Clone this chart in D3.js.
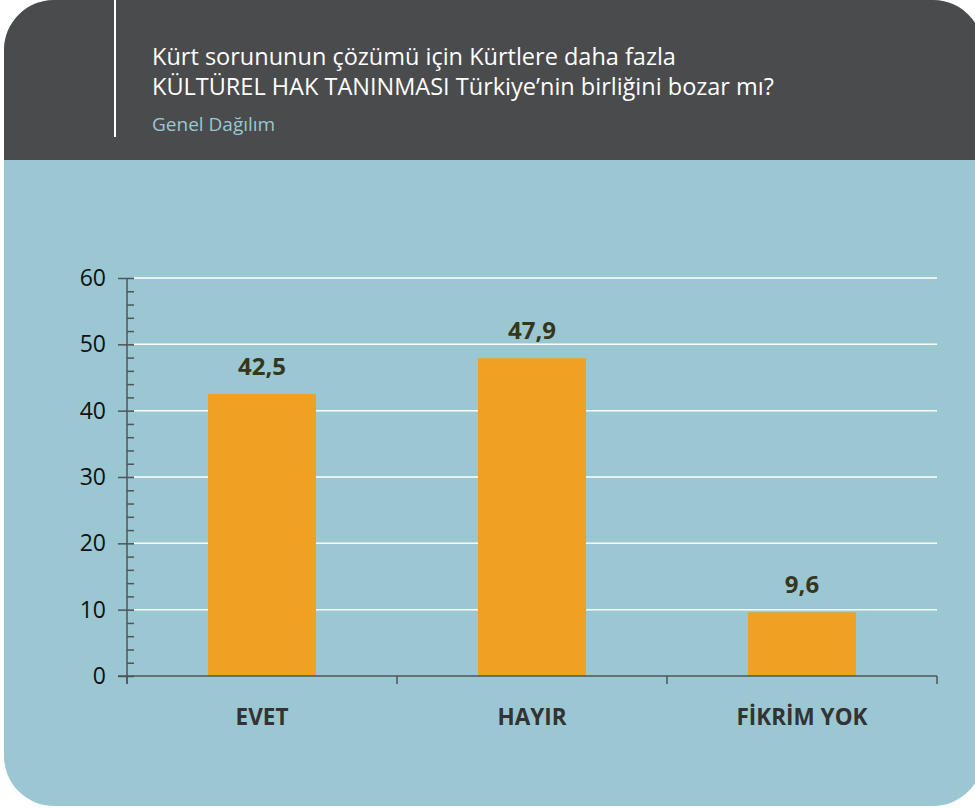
<!DOCTYPE html>
<html>
<head>
<meta charset="utf-8">
<script src="https://cdn.jsdelivr.net/npm/d3@7"></script>
<style>
  body { margin: 0; background: #ffffff; }
  svg { display: block; }
</style>
</head>
<body>
<div id="chart-area"></div>
<script>
// data
const categories = ['EVET', 'HAYIR', 'FİKRİM YOK'];
const values = [42.5, 47.9, 9.6];
const valueLabels = ['42,5', '47,9', '9,6'];
const yTicks = [0, 10, 20, 30, 40, 50, 60];
const titleLines = [
  'Kürt sorununun çözümü için Kürtlere daha fazla',
  'KÜLTÜREL HAK TANINMASI Türkiye’nin birliğini bozar mı?'
];
const subtitle = 'Genel Dağılım';

const W = 975, H = 808;
const plot = {left: 127, right: 937, top: 278, bottom: 676};

const svg = d3.select('#chart-area')
  .append('svg')
  .attr('width', W)
  .attr('height', H);

// card shape
svg.append('clipPath')
  .attr('id', 'card')
  .append('rect')
    .attr('x', 4)
    .attr('y', 0)
    .attr('width', 979)
    .attr('height', 806)
    .attr('rx', 50)
    .attr('ry', 50);

let card = svg.append('g').attr('clip-path', 'url(#card)');

card.append('rect')
  .attr('x', 0).attr('y', 0)
  .attr('width', W).attr('height', H)
  .attr('fill', '#9ac7d2');

card.append('rect')
  .attr('x', 0).attr('y', 0)
  .attr('width', W).attr('height', 160)
  .attr('fill', '#4a4b4d');

// white bar in header
svg.append('line')
  .attr('x1', 115).attr('x2', 115)
  .attr('y1', 0).attr('y2', 137)
  .attr('stroke', '#ffffff')
  .attr('stroke-width', 2);

// title
svg.selectAll('.title')
  .data(titleLines)
  .enter()
  .append('text')
    .attr('class', 'title')
    .attr('x', 152)
    .attr('y', (d, i) => 65 + i * 30)
    .attr('font-family', 'Open Sans, sans-serif')
    .attr('font-size', '23.5px')
    .attr('fill', '#ffffff')
    .text(d => d);

svg.append('text')
  .attr('x', 152)
  .attr('y', 131)
  .attr('font-family', 'Open Sans, sans-serif')
  .attr('font-size', '19px')
  .attr('fill', '#9ac7d2')
  .text(subtitle);

// scales
const x = d3.scaleBand()
  .domain(categories)
  .range([plot.left, plot.right])
  .padding(0);

const y = d3.scaleLinear()
  .domain([0, 60])
  .range([plot.bottom, plot.top]);

// gridlines
svg.append('g')
  .selectAll('line')
  .data(yTicks.filter(d => d > 0))
  .enter()
  .append('line')
    .attr('x1', plot.left + 7)
    .attr('x2', plot.right)
    .attr('y1', d => y(d))
    .attr('y2', d => y(d))
    .attr('stroke', '#ffffff')
    .attr('stroke-width', 1.5);

// bars
const barW = x.bandwidth() * 0.4;
svg.append('g')
  .selectAll('rect')
  .data(values)
  .enter()
  .append('rect')
    .attr('x', (d, i) => x(categories[i]) + (x.bandwidth() - barW) / 2)
    .attr('y', d => y(d))
    .attr('width', barW)
    .attr('height', d => y(0) - y(d))
    .attr('fill', '#f0a121');

// value labels
svg.append('g')
  .selectAll('text')
  .data(values)
  .enter()
  .append('text')
    .attr('x', (d, i) => x(categories[i]) + x.bandwidth() / 2)
    .attr('y', d => y(d) - 19)
    .attr('text-anchor', 'middle')
    .attr('font-family', 'Open Sans, sans-serif')
    .attr('font-weight', 'bold')
    .attr('font-size', '24px')
    .attr('fill', '#36361c')
    .text((d, i) => valueLabels[i]);

// Y axis: major ticks to the left with labels
const axisColor = '#4f5558';
const yAxisCall = d3.axisLeft(y)
  .tickValues(yTicks)
  .tickSize(9)
  .tickPadding(12)
  .tickFormat(d => d);

let yAxis = svg.append('g')
  .attr('class', 'y-axis')
  .attr('transform', `translate(${plot.left}, 0)`)
  .call(yAxisCall);
yAxis.select('.domain').remove();
yAxis.selectAll('line').attr('stroke', axisColor).attr('stroke-width', 1.5);
yAxis.selectAll('text')
  .attr('font-family', 'Open Sans, sans-serif')
  .attr('font-size', '23px')
  .attr('fill', '#111111');

// minor ticks to the right
const yMinorCall = d3.axisRight(y)
  .tickValues(d3.range(0, 61, 2))
  .tickSize(7)
  .tickFormat('');

let yMinor = svg.append('g')
  .attr('transform', `translate(${plot.left}, 0)`)
  .call(yMinorCall);
yMinor.select('.domain').remove();
yMinor.selectAll('line').attr('stroke', axisColor).attr('stroke-width', 1.5);

// axis vertical line
svg.append('line')
  .attr('x1', plot.left).attr('x2', plot.left)
  .attr('y1', y(60)).attr('y2', y(0) + 8)
  .attr('stroke', axisColor)
  .attr('stroke-width', 1.5);

// X axis
svg.append('line')
  .attr('x1', plot.left - 9).attr('x2', plot.right)
  .attr('y1', y(0)).attr('y2', y(0))
  .attr('stroke', axisColor)
  .attr('stroke-width', 1.5);

const edges = categories.map(c => x(c)).concat([x(categories[categories.length - 1]) + x.bandwidth()]);
svg.append('g')
  .selectAll('line')
  .data(edges)
  .enter()
  .append('line')
    .attr('x1', d => d).attr('x2', d => d)
    .attr('y1', y(0)).attr('y2', y(0) + 8)
    .attr('stroke', axisColor)
    .attr('stroke-width', 1.5);

// category labels
svg.append('g')
  .selectAll('text')
  .data(categories)
  .enter()
  .append('text')
    .attr('x', d => x(d) + x.bandwidth() / 2)
    .attr('y', 725)
    .attr('text-anchor', 'middle')
    .attr('font-family', 'Open Sans, sans-serif')
    .attr('font-weight', 'bold')
    .attr('font-size', '22.5px')
    .attr('fill', '#333333')
    .text(d => d);
</script>
</body>
</html>
